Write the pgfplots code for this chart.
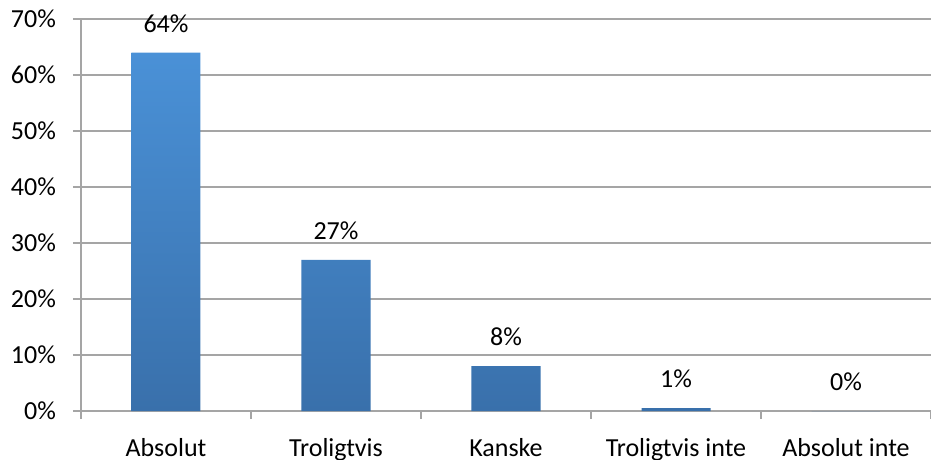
\documentclass[border=0pt]{standalone}
\usepackage{fontspec}
\setmainfont{Carlito}
\usepackage{pgfplots}
\pgfplotsset{compat=1.18}
\definecolor{bartop}{RGB}{74,145,215}
\definecolor{barbot}{RGB}{57,112,171}
\definecolor{gridc}{RGB}{165,165,165}

\pgfplotstableread{
x y lab
0 64 64
1 27 27
2 8 8
3 0.5 1
4 0 0
}\answers

\begin{document}
\begin{tikzpicture}
\begin{axis}[
  scale only axis, width=425pt, height=196pt,
  xmin=-0.5, xmax=4.5, ymin=0, ymax=70,
  ytick={0,10,...,70},
  xtick={-0.5,0.5,...,4.5}, xticklabels={},
  extra x ticks={0,1,2,3,4},
  extra x tick labels={Absolut,Troligtvis,Kanske,Troligtvis inte,Absolut inte},
  extra x tick style={major tick length=0pt, xticklabel style={yshift=-10pt}},
  tick align=outside, major tick length=4pt,
  axis x line*=bottom, axis y line*=left,
  axis line style={gridc, line width=0.8pt},
  tick style={gridc, line width=0.8pt},
  ymajorgrids, major grid style={gridc, line width=0.8pt},
  yticklabel={\pgfmathprintnumber{\tick}\%},
  yticklabel style={xshift=-5pt},
  /pgf/number format/assume math mode=true,
  tick label style={font=\fontsize{13}{15}\selectfont, black},
]
\addplot[ybar, bar width=34.5pt, draw=none, top color=bartop, bottom color=barbot,
  point meta=explicit symbolic,
  nodes near coords={\pgfplotspointmeta\%},
  every node near coord/.append style={font=\fontsize{13}{15}\selectfont, black, yshift=6.5pt}]
  table[x=x, y=y, meta=lab] {\answers};
\end{axis}
\pgfresetboundingbox
\path ([shift={(-40.5pt,9.5pt)}]current axis.north west)
  rectangle ([shift={(0pt,-24.5pt)}]current axis.south east);
\end{tikzpicture}
\end{document}
